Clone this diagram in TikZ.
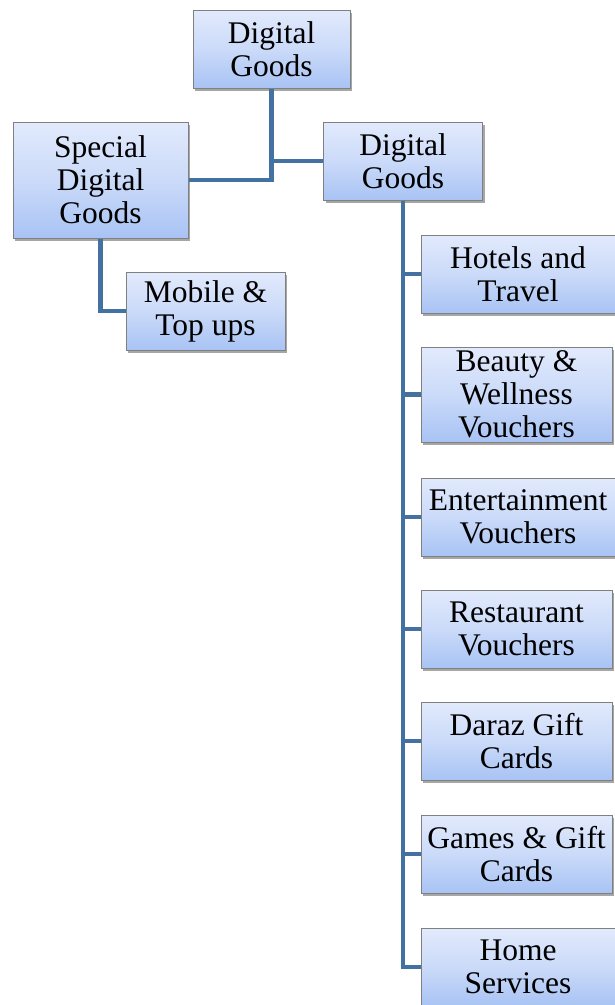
\documentclass[tikz,border=0pt]{standalone}
\usepackage{fontspec}
\setmainfont{Liberation Serif}
\usetikzlibrary{shadows}
\definecolor{boxtop}{RGB}{226,234,252}
\definecolor{boxbot}{RGB}{168,195,244}
\definecolor{boxline}{RGB}{128,128,128}
\definecolor{connc}{RGB}{66,113,162}
\begin{document}
\begin{tikzpicture}[x=1pt,y=-1pt,
  box/.style={draw=boxline, line width=1pt, top color=boxtop, bottom color=boxbot,
    middle color=boxtop!60!boxbot,
    drop shadow={shadow xshift=2pt, shadow yshift=-3pt, opacity=0.35, fill=black},
    align=center, inner sep=0pt, font=\fontsize{31.5}{33}\selectfont},
  conn/.style={draw=connc, line width=4.5pt}]
\useasboundingbox (0,0) rectangle (614,1005);
\node[box, minimum width=157pt, minimum height=78pt] (top) at (271.5,49) {Digital\\Goods};
\node[box, minimum width=175pt, minimum height=116pt] (special) at (100.5,180) {Special\\Digital\\Goods};
\node[box, minimum width=159pt, minimum height=78pt] (dg) at (403,161) {Digital\\Goods};
\node[box, minimum width=159pt, minimum height=78pt] (mobile) at (205.5,311) {Mobile \&\\Top ups};
\node[box, minimum width=194pt, minimum height=78pt] (hotels) at (518,274) {Hotels and\\Travel};
\node[box, minimum width=191pt, minimum height=95pt] (beauty) at (516.5,394.5) {Beauty \&\\Wellness\\Vouchers};
\node[box, minimum width=194pt, minimum height=78pt] (ent) at (518,517) {Entertainment\\Vouchers};
\node[box, minimum width=191pt, minimum height=78pt] (rest) at (516.5,629) {Restaurant\\Vouchers};
\node[box, minimum width=191pt, minimum height=78pt] (daraz) at (516.5,741) {Daraz Gift\\Cards};
\node[box, minimum width=191pt, minimum height=78pt] (games) at (516.5,854) {Games \& Gift\\Cards};
\node[box, minimum width=194pt, minimum height=78pt] (home) at (518,967) {Home\\Services};
\draw[conn] (top.south) |- (special.east);
\draw[conn] (top.south) |- (dg.west);
\draw[conn] (special.south) |- (mobile.west);
\foreach \n in {hotels,beauty,ent,rest,daraz,games,home}
  \draw[conn] (dg.south) |- (\n.west);
\end{tikzpicture}
\end{document}
